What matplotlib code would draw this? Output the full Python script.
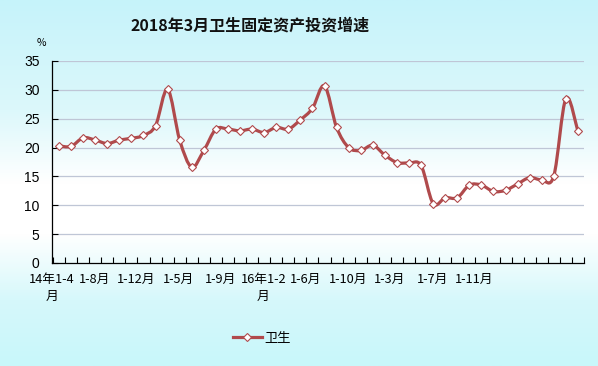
import numpy as np
import matplotlib
matplotlib.use("Agg")
import matplotlib.pyplot as plt
from matplotlib.path import Path
from matplotlib.patches import PathPatch
from matplotlib.colors import LinearSegmentedColormap
from matplotlib.lines import Line2D

plt.rcParams['font.family'] = ['Noto Sans CJK SC', 'DejaVu Sans']

title = "2018年3月卫生固定资产投资增速"
series_name = "卫生"
values = [20.3, 20.2, 21.7, 21.3, 20.7, 21.3, 21.6, 22.1, 23.8, 30.1,
          21.3, 16.6, 19.5, 23.2, 23.2, 22.9, 23.2, 22.6, 23.5, 23.2,
          24.8, 26.8, 30.7, 23.5, 20.0, 19.5, 20.4, 18.7, 17.4, 17.3,
          16.9, 10.3, 11.3, 11.3, 13.5, 13.5, 12.4, 12.6, 13.7, 14.8,
          14.4, 15.1, 28.5, 22.8]
xlabels = ["14年1-4\n月", "1-8月", "1-12月", "1-5月", "1-9月", "16年1-2\n月",
           "1-6月", "1-10月", "1-3月", "1-7月", "1-11月"]
yticks = [0, 5, 10, 15, 20, 25, 30, 35]

W, H = 598, 366
fig = plt.figure(figsize=(W / 100, H / 100), dpi=100)

# background gradient
bg = fig.add_axes([0, 0, 1, 1], zorder=-10)
cmap = LinearSegmentedColormap.from_list("bg", [
    (0.0, "#c6f3fa"), (0.30, "#dcf8fb"), (0.50, "#ffffff"), (0.64, "#ffffff"),
    (0.82, "#d6f8fb"), (1.0, "#c8f7fa")])
grad = np.linspace(0, 1, 256).reshape(-1, 1)
bg.imshow(grad, aspect='auto', cmap=cmap, extent=[0, 1, 1, 0])
bg.set_axis_off()

x0, x1 = 52 / W, 584 / W
y0, y1 = 1 - 263 / H, 1 - 61 / H
ax = fig.add_axes([x0, y0, x1 - x0, y1 - y0])
ax.patch.set_alpha(0)

n = len(values)
xs = np.arange(n, dtype=float)
ys = np.array(values, dtype=float)

# smooth curve (cubic Bezier through data points)
verts = [(xs[0], ys[0])]
codes = [Path.MOVETO]
for i in range(n - 1):
    p0 = np.array([xs[max(i - 1, 0)], ys[max(i - 1, 0)]])
    p1 = np.array([xs[i], ys[i]])
    p2 = np.array([xs[i + 1], ys[i + 1]])
    p3 = np.array([xs[min(i + 2, n - 1)], ys[min(i + 2, n - 1)]])
    c1 = p1 + (p2 - p0) / 6
    c2 = p2 - (p3 - p1) / 6
    verts += [tuple(c1), tuple(c2), tuple(p2)]
    codes += [Path.CURVE4] * 3
patch = PathPatch(Path(verts, codes), facecolor='none', edgecolor='#b04a4c',
                  lw=2.3, zorder=3, capstyle='round', joinstyle='round')
ax.add_patch(patch)
ax.plot(xs, ys, linestyle='none', marker='D', markersize=3.6,
        markerfacecolor='white', markeredgecolor='#b04a4c', markeredgewidth=0.8,
        zorder=4)

ax.set_xlim(-0.5, n - 0.5)
ax.set_ylim(0, 35)
ax.set_yticks(yticks)
ax.set_yticklabels([str(v) for v in yticks], fontsize=10,
                   family=['Liberation Sans', 'DejaVu Sans'])
ax.tick_params(axis='y', direction='in', length=4, width=0.8, pad=9, colors='black')
for v in yticks[1:]:
    ax.axhline(v, color='#bfc6d6', lw=0.9, zorder=1)

# category boundary ticks
ax.set_xticks(np.arange(n + 1) - 0.5, minor=True)
ax.tick_params(axis='x', which='minor', direction='in', length=4, width=0.8)
label_pos = -0.58 + 3.5 * np.arange(len(xlabels))
ax.set_xticks(label_pos)
ax.set_xticklabels(xlabels, fontsize=9.2, linespacing=1.45)
ax.tick_params(axis='x', which='major', length=0, pad=7)

for s in ['top', 'right']:
    ax.spines[s].set_visible(False)
for s in ['left', 'bottom']:
    ax.spines[s].set_linewidth(0.9)
    ax.spines[s].set_color('black')

fig.text(250 / W, 1 - 25 / H, title, ha='center', va='center', fontsize=11.5,
         fontweight='bold', color='#111111')
fig.text(41 / W, 1 - 43 / H, "%", ha='center', va='center', fontsize=7.5)

h = Line2D([], [], color='#b04a4c', lw=2.3, marker='D', markersize=3.6,
           markerfacecolor='white', markeredgecolor='#b04a4c', markeredgewidth=0.8)
fig.legend([h], [series_name], loc='center', bbox_to_anchor=(262 / W, 1 - 338 / H),
           frameon=False, fontsize=9.5, handlelength=2.2, handletextpad=0.2)

fig.savefig("out.png", dpi=100)
